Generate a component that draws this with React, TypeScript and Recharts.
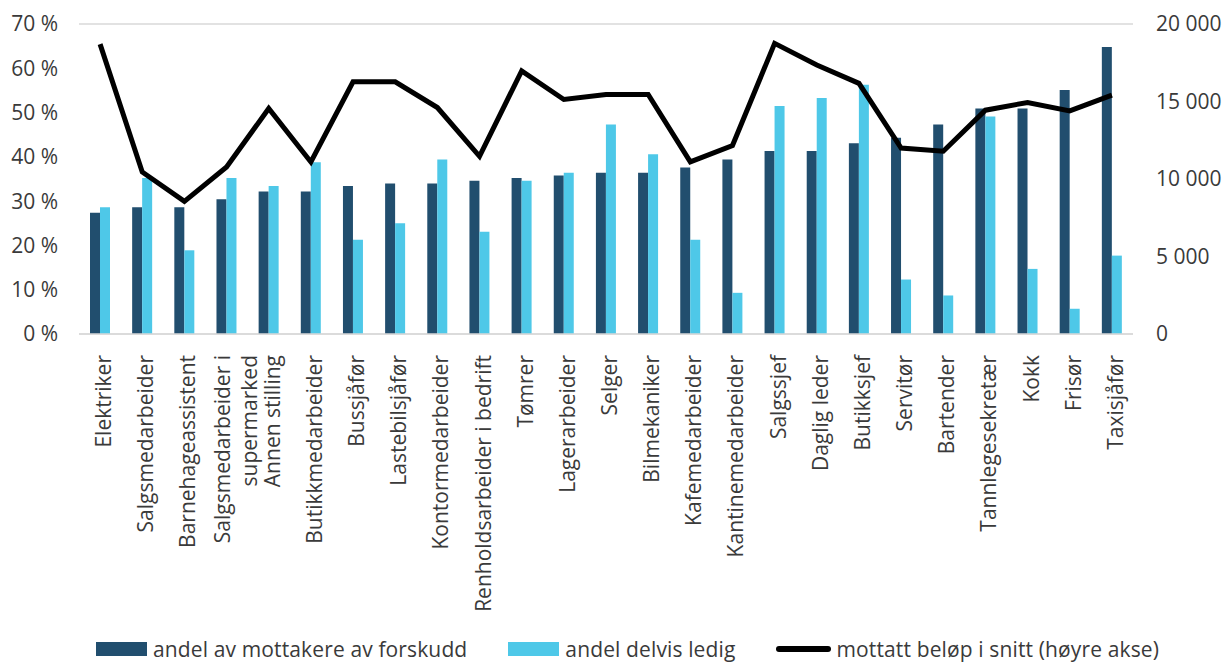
import React from 'react';
import { ComposedChart, Bar, Line, XAxis, YAxis, CartesianGrid, Legend } from 'recharts';

const categories = [
  'Elektriker',
  'Salgsmedarbeider',
  'Barnehageassistent',
  'Salgsmedarbeider i\nsupermarked',
  'Annen stilling',
  'Butikkmedarbeider',
  'Bussjåfør',
  'Lastebilsjåfør',
  'Kontormedarbeider',
  'Renholdsarbeider i bedrift',
  'Tømrer',
  'Lagerarbeider',
  'Selger',
  'Bilmekaniker',
  'Kafemedarbeider',
  'Kantinemedarbeider',
  'Salgssjef',
  'Daglig leder',
  'Butikksjef',
  'Servitør',
  'Bartender',
  'Tannlegesekretær',
  'Kokk',
  'Frisør',
  'Taxisjåfør',
];

// andel av mottakere av forskudd (%)
const forskuddShare = [
  27.4, 28.6, 28.6, 30.4, 32.2, 32.2, 33.4, 34.0, 34.0, 34.6, 35.2, 35.8, 36.4,
  36.4, 37.6, 39.4, 41.3, 41.3, 43.1, 44.3, 47.3, 50.9, 50.9, 55.1, 64.8,
];

// andel delvis ledig (%)
const delvisLedigShare = [
  28.6, 35.2, 18.9, 35.2, 33.4, 38.8, 21.3, 25.0, 39.4, 23.1, 34.6, 36.4, 47.3,
  40.6, 21.3, 9.3, 51.5, 53.3, 56.3, 12.3, 8.7, 49.1, 14.7, 5.7, 17.7,
];

// mottatt beløp i snitt (høyre akse)
const avgAmount = [
  18700, 10450, 8560, 10770, 14550, 11100, 16270, 16270, 14610, 11460, 16980,
  15130, 15450, 15450, 11100, 12160, 18750, 17350, 16170, 12000, 11790, 14440,
  14940, 14390, 15410,
];

const seriesNames = [
  'andel av mottakere av forskudd',
  'andel delvis ledig',
  'mottatt beløp i snitt (høyre akse)',
];

const leftTicks = [0, 10, 20, 30, 40, 50, 60, 70];
const rightTicks = [0, 5000, 10000, 15000, 20000];

const data = categories.map((name, i) => ({
  name,
  forskudd: forskuddShare[i],
  delvis: delvisLedigShare[i],
  belop: avgAmount[i],
}));

const FONT = '"Open Sans", "Noto Sans", sans-serif';
const TEXT = '#3a3a3a';
const DARK = '#214E6E';
const LIGHT = '#4EC8E8';
const GRID = '#D9D9D9';

const fmtThousands = (v: number) =>
  String(v).replace(/\B(?=(\d{3})+(?!\d))/g, '\u00a0');

function CategoryTick(props: any) {
  const { x, y, payload } = props;
  const lines = String(payload.value).split('\n');
  const n = lines.length;
  return (
    <g transform={`translate(${x},${y + 21}) rotate(-90)`}>
      <text textAnchor="end" fontFamily={FONT} fontSize={21} fill={TEXT}>
        {lines.map((l, k) => (
          <tspan key={k} x={0} y={11 + k * 27 - (n - 1) * 8}>
            {l}
          </tspan>
        ))}
      </text>
    </g>
  );
}

function LegendContent() {
  const swatches = [
    <div key="s0" style={{ width: 51, height: 14, background: DARK }} />,
    <div key="s1" style={{ width: 51, height: 14, background: LIGHT }} />,
    <div key="s2" style={{ width: 55, height: 6, background: '#000', borderRadius: 3 }} />,
  ];
  return (
    <div
      style={{
        height: 26,
        display: 'flex',
        alignItems: 'center',
        paddingLeft: 96,
        fontFamily: FONT,
        fontSize: 21,
        letterSpacing: 0.13,
        color: TEXT,
        whiteSpace: 'nowrap',
      }}
    >
      {seriesNames.map((name, i) => (
        <div
          key={name}
          style={{ display: 'flex', alignItems: 'center', marginRight: i < 2 ? 41 : 0 }}
        >
          {swatches[i]}
          <span style={{ marginLeft: i === 2 ? 5 : 6, lineHeight: '26px' }}>{name}</span>
        </div>
      ))}
    </div>
  );
}

export default function App() {
  return (
    <div style={{ position: 'absolute', left: 0, top: 0, width: 1225, height: 662, background: '#fff' }}>
      <ComposedChart
        width={1225}
        height={662}
        data={data}
        margin={{ top: 24, right: 0, bottom: 0, left: 0 }}
        barGap={0}
        barCategoryGap={0}
      >
        <CartesianGrid vertical={false} stroke={GRID} strokeWidth={1.3} />
        <XAxis
          dataKey="name"
          xAxisId="x"
          interval={0}
          height={302}
          tickSize={0}
          tickMargin={0}
          tickLine={false}
          axisLine={{ stroke: GRID, strokeWidth: 1.3 }}
          tick={<CategoryTick />}
        />
        <YAxis
          yAxisId="left"
          orientation="left"
          width={79}
          domain={[0, 70]}
          ticks={leftTicks}
          interval={0}
          tickSize={0}
          tickMargin={21}
          tickLine={false}
          axisLine={false}
          tickFormatter={(v: number) => `${v} %`}
          tick={{ fontFamily: FONT, fontSize: 21, fill: TEXT }}
        />
        <YAxis
          yAxisId="right"
          orientation="right"
          width={92}
          domain={[0, 20000]}
          ticks={rightTicks}
          interval={0}
          tickSize={0}
          tickMargin={23}
          tickLine={false}
          axisLine={false}
          tickFormatter={fmtThousands}
          tick={{ fontFamily: FONT, fontSize: 21, fill: TEXT, textAnchor: 'start' }}
        />
        <Bar
          xAxisId="x"
          yAxisId="left"
          dataKey="forskudd"
          name={seriesNames[0]}
          fill={DARK}
          barSize={10}
          isAnimationActive={false}
        />
        <Bar
          xAxisId="x"
          yAxisId="left"
          dataKey="delvis"
          name={seriesNames[1]}
          fill={LIGHT}
          barSize={10}
          isAnimationActive={false}
        />
        <Line
          xAxisId="x"
          yAxisId="right"
          dataKey="belop"
          name={seriesNames[2]}
          stroke="#000"
          strokeWidth={5}
          dot={false}
          activeDot={false}
          type="linear"
          isAnimationActive={false}
        />
        <Legend
          verticalAlign="bottom"
          align="left"
          content={<LegendContent />}
          wrapperStyle={{ left: 0, bottom: 0, width: 1225, height: 26 }}
        />
      </ComposedChart>
    </div>
  );
}
